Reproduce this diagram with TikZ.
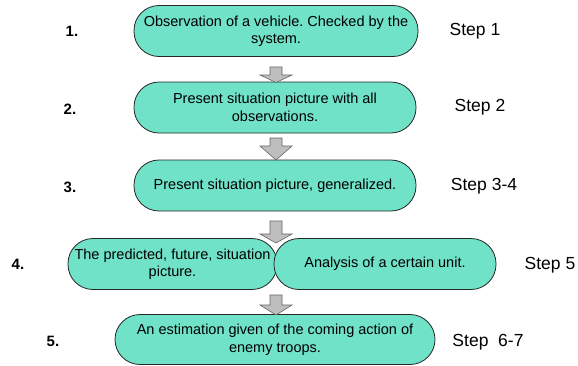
\documentclass[tikz,border=0pt]{standalone}
\usepackage{fontspec}
\setmainfont{Liberation Sans}
\definecolor{boxfill}{RGB}{112,226,200}
\definecolor{arrfill}{RGB}{190,190,190}
\definecolor{arrdraw}{RGB}{100,100,100}
\tikzset{
  stepbox/.style={draw=black!85, line width=0.8pt, fill=boxfill, rounded corners=25pt,
    minimum height=51pt, align=center, font=\fontsize{14.5}{17.5}\selectfont\frenchspacing, inner sep=2pt},
  numlbl/.style={font=\fontsize{15}{17}\selectfont\bfseries},
  steplbl/.style={font=\fontsize{17.5}{20}\selectfont},
  blockarr/.style={draw=arrdraw, fill=arrfill, line width=0.6pt, line join=miter}
}
\newcommand\blockarrow[4]{% x, top, head start, tip
  \draw[blockarr] (#1-6,#2) -- (#1+6,#2) -- (#1+6,#3) -- (#1+16,#3) -- (#1,#4) -- (#1-16,#3) -- (#1-6,#3) -- cycle;}
\begin{document}
\begin{tikzpicture}[x=1pt,y=-1pt]
\useasboundingbox[fill=white] (0,0) rectangle (578,365);
\node[stepbox, minimum width=284pt] (b1) at (276,31) {Observation of a vehicle. Checked by the\\system.};
\node[stepbox, minimum width=282pt] (b2) at (275,107.5) {Present situation picture with all\\observations.};
\node[stepbox, minimum width=282pt] (b3) at (275,185.5) {Present situation picture, generalized.};
\node[stepbox, minimum width=209pt] (b4a) at (172.5,264) {The predicted, future, situation\\picture.};
\node[stepbox, minimum width=222pt] (b4b) at (385,264) {Analysis of a certain unit.};
\node[stepbox, minimum width=320pt, minimum height=50pt] (b5) at (275,339.5) {An estimation given of the coming action of\\enemy troops.};
\blockarrow{276}{67}{75}{82.5}
\blockarrow{276}{138}{146}{160}
\blockarrow{276}{221}{234}{243}
\blockarrow{276}{295}{305}{315}
\node[numlbl] (n1) at (72,31) {1.};
\node[numlbl] (n2) at (70,109) {2.};
\node[numlbl] (n3) at (70,187) {3.};
\node[numlbl] (n4) at (18,264) {4.};
\node[numlbl] (n5) at (53,341) {5.};
\node[steplbl] (s1) at (475,31) {Step 1};
\node[steplbl] (s2) at (480,107) {Step 2};
\node[steplbl] (s3) at (484,186) {Step 3-4};
\node[steplbl] (s4) at (550,265) {Step 5};
\node[steplbl] (s5) at (488,342) {Step\ \ 6-7};
\end{tikzpicture}
\end{document}
